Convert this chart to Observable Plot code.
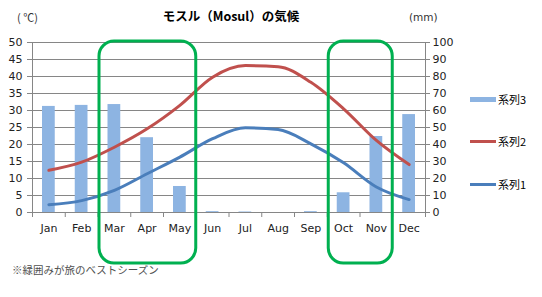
<!DOCTYPE html>
<html>
<head>
<meta charset="utf-8">
<script src="https://cdn.jsdelivr.net/npm/d3@7"></script>
<script src="https://cdn.jsdelivr.net/npm/@observablehq/plot@0.6"></script>
<style>
  body { margin: 0; background: #fff; }
  #wrap { position: relative; width: 542px; height: 297px; overflow: hidden; font-family: "DejaVu Sans", sans-serif; }
  .abs { position: absolute; white-space: nowrap; line-height: 1; }
  .jp { font-family: "Noto Sans CJK JP", "DejaVu Sans", sans-serif; }
  .leg { position: absolute; left: 470px; display: flex; align-items: center; font-size: 11px; }
  .leg span.sw { display: inline-block; width: 26px; margin-right: 2px; }
</style>
</head>
<body>
<div id="wrap"></div>
<script>
const months = ["Jan","Feb","Mar","Apr","May","Jun","Jul","Aug","Sep","Oct","Nov","Dec"];
const series2 = [12.4,14.8,19.2,24.6,31.5,39.8,43.2,42.9,38.3,30.5,21.2,14.1]; // 系列2 (°C)
const series1 = [2.3,3.5,6.5,11.4,16.3,21.7,24.9,24.4,20.2,14.6,7.5,3.8];     // 系列1 (°C)
const series3 = [62.4,63,63.5,44,15.3,0.5,0.3,0,0.5,11.6,44.7,57.6];          // 系列3 (mm)
const leftTicks = [0,5,10,15,20,25,30,35,40,45,50];
const rightTicks = [0,10,20,30,40,50,60,70,80,90,100];
const seasons = [{from: "Mar", to: "May"}, {from: "Oct", to: "Nov"}];

const data = months.map((m, i) => ({month: m, i, s1: series1[i], s2: series2[i], s3: series3[i]}));
const seasonRects = seasons.map(s => ({x1: months.indexOf(s.from), x2: months.indexOf(s.to) + 1}));

const gray = "#868686";
const chart = Plot.plot({
  width: 542,
  height: 297,
  marginTop: 42,
  marginBottom: 85,
  marginLeft: 32,
  marginRight: 117,
  style: {fontFamily: "DejaVu Sans, sans-serif", fontSize: "11px", color: "#222", background: "transparent", overflow: "visible"},
  x: {type: "linear", domain: [0, 12], axis: null},
  y: {domain: [0, 50], axis: null},
  marks: [
    Plot.ruleY(leftTicks.slice(1), {stroke: gray, strokeWidth: 1}),
    Plot.rectY(data, {x1: "i", x2: d => d.i + 1, y: d => d.s3 / 2, fill: "#8db4e2", insetLeft: 10, insetRight: 10}),
    Plot.line(data, {x: d => d.i + 0.5, y: "s2", stroke: "#c0504d", strokeWidth: 3, curve: "monotone-x"}),
    Plot.line(data, {x: d => d.i + 0.5, y: "s1", stroke: "#4a7ebb", strokeWidth: 3, curve: "monotone-x"}),
    Plot.ruleX([0, 12], {stroke: gray}),
    Plot.ruleY([0], {stroke: gray}),
    Plot.axisY(leftTicks, {anchor: "left", tickSize: 5, tickPadding: 5, stroke: gray, fill: "#222"}),
    Plot.axisY(rightTicks.map(v => v / 2), {anchor: "right", tickSize: 4, tickPadding: 3, stroke: gray, fill: "#222", tickFormat: v => String(Math.round(v * 2)), textAnchor: "start"}),
    Plot.axisX(d3.range(13), {anchor: "bottom", tickSize: 5, stroke: gray, tickFormat: () => ""}),
    Plot.axisX(months.map((m, i) => i + 0.5), {anchor: "bottom", tickSize: 0, tickPadding: 12, fill: "#222", tickFormat: v => months[Math.floor(v)]}),
    Plot.rect(seasonRects, {x1: "x1", x2: "x2", fill: "none", stroke: "#00b050", strokeWidth: 3, rx: 15, insetLeft: 1.5, insetRight: 0, insetTop: -1, insetBottom: -51})
  ]
});

const wrap = document.getElementById("wrap");
chart.style.position = "absolute";
chart.style.left = "0px";
chart.style.top = "0px";
wrap.appendChild(chart);

function addText(txt, css, cls) {
  const d = document.createElement("div");
  d.className = "abs " + (cls || "");
  d.textContent = txt;
  Object.assign(d.style, css);
  wrap.appendChild(d);
  return d;
}
addText("モスル（Mosul）の気候", {left: "0px", width: "462px", textAlign: "center", top: "10px", fontSize: "12.5px", fontWeight: "bold"}, "jp");
addText("( ℃)", {left: "17px", top: "12px", fontSize: "11px", color: "#333"}, "jp");
addText("(mm)", {left: "409px", top: "12px", fontSize: "10.5px", color: "#333"});
addText("※緑囲みが旅のベストシーズン", {left: "12px", top: "265px", fontSize: "10.5px", color: "#505050"}, "jp");

const legend = [
  {label: "系列3", color: "#8db4e2", h: 5, y: 99},
  {label: "系列2", color: "#c0504d", h: 3, y: 141},
  {label: "系列1", color: "#4a7ebb", h: 3, y: 184}
];
for (const l of legend) {
  const row = document.createElement("div");
  row.className = "leg jp";
  row.style.top = (l.y - 8) + "px";
  row.style.height = "16px";
  const sw = document.createElement("span");
  sw.className = "sw";
  sw.style.height = l.h + "px";
  sw.style.background = l.color;
  const t = document.createElement("span");
  t.textContent = l.label;
  row.appendChild(sw);
  row.appendChild(t);
  wrap.appendChild(row);
}
</script>
</body>
</html>
